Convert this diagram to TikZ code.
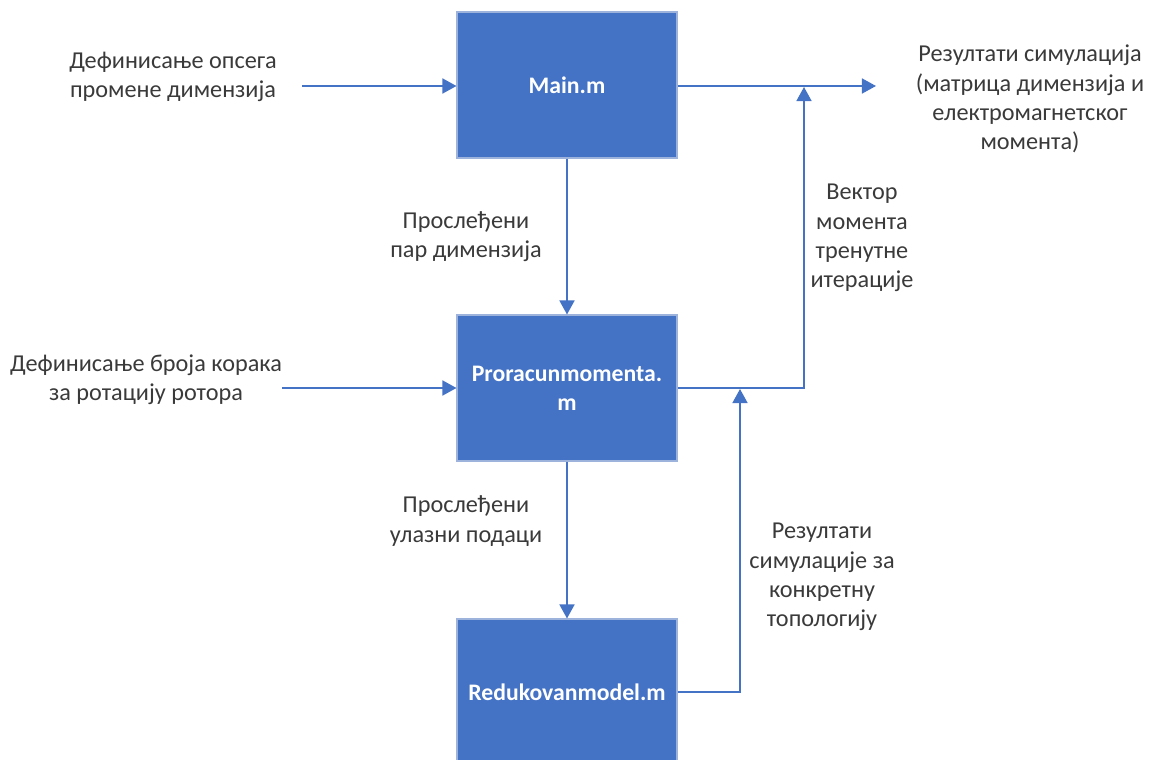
\documentclass[tikz,border=0pt]{standalone}
\usepackage{fontspec}
\setmainfont{Carlito}
\usetikzlibrary{arrows.meta}
\definecolor{boxblue}{HTML}{4472C4}
\definecolor{boxedge}{HTML}{9DB3DC}
\definecolor{txtgray}{HTML}{3A3A3A}
\begin{document}
\begin{tikzpicture}[x=0.02cm, y=-0.02cm,
    box/.style={draw=boxedge, line width=0.6pt, fill=boxblue, minimum width=4.4cm, minimum height=2.92cm, text=white, font=\fontsize{13.5}{16.6}\selectfont\bfseries},
    lbl/.style={align=center, text=txtgray, font=\fontsize{13.8}{16.6}\selectfont},
    arr/.style={-{Triangle[length=8pt,width=8.5pt]}, draw=boxblue, line width=1.1pt}
]
\useasboundingbox (0,0) rectangle (1150,760);
% modules
\node[box] (main) at (567,85) {Main.m};
\node[box, align=center] (pm) at (567,388) {Proracunmomenta.\\m};
\node[box] (rm) at (567,692) {Redukovanmodel.m};
% texts
\node[lbl] (in1) at (173,77) {Дефинисање опсега\\промене димензија};
\node[lbl] (in2) at (146,380) {Дефинисање броја корака\\за ротацију ротора};
\node[lbl] (res) at (1030,99) {Резултати симулација\\(матрица димензија и\\електромагнетског\\момента)};
\node[lbl] (l1) at (466,237) {Прослеђени\\пар димензија};
\node[lbl] (l2) at (466,521) {Прослеђени\\улазни подаци};
\node[lbl] (l3) at (862,238) {Вектор\\момента\\тренутне\\итерације};
\node[lbl] (l4) at (822,577) {Резултати\\симулације за\\конкретну\\топологију};
% connector ends
\coordinate (s1) at (302,86);
\coordinate (s2) at (282,388);
\coordinate (out) at (876,86);
\coordinate (j1) at (804,87);
\coordinate (j2) at (740,389);
% arrows
\draw[arr] (s1) -- (s1 -| main.west);
\draw[arr] (s2) -- (s2 -| pm.west);
\draw[arr] (main.east |- out) -- (out);
\draw[arr] (main) -- (pm);
\draw[arr] (pm) -- (rm);
\draw[arr] (pm.east) -| (j1);
\draw[arr] (rm.east) -| (j2);
\end{tikzpicture}
\end{document}
